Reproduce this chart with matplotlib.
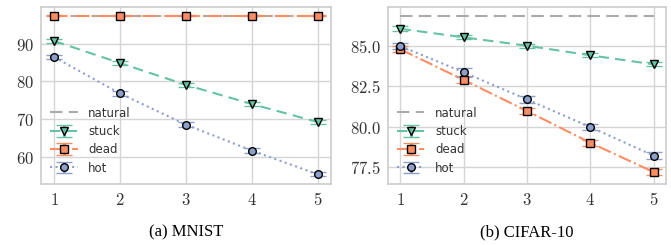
import numpy as np
import matplotlib
matplotlib.use('Agg')
import matplotlib.pyplot as plt
from matplotlib.ticker import FuncFormatter

plt.rcParams['mathtext.fontset'] = 'cm'

# data
steps = [1, 2, 3, 4, 5]

mnist_natural = [97.5, 97.5, 97.5, 97.5, 97.5]
mnist_stuck = [90.8, 84.9, 79.1, 74.0, 69.2]
mnist_dead = [97.5, 97.5, 97.5, 97.5, 97.5]
mnist_hot = [86.5, 76.8, 68.5, 61.6, 55.3]
mnist_stuck_err = [0.6, 0.6, 0.6, 0.6, 0.6]
mnist_dead_err = [0.1, 0.1, 0.1, 0.1, 0.1]
mnist_hot_err = [0.6, 0.6, 0.6, 0.6, 0.6]

cifar_natural = [86.87, 86.87, 86.87, 86.87, 86.87]
cifar_stuck = [86.07, 85.54, 85.02, 84.43, 83.87]
cifar_dead = [84.80, 82.90, 80.98, 79.02, 77.21]
cifar_hot = [85.00, 83.37, 81.70, 79.99, 78.22]
cifar_stuck_err = [0.15, 0.12, 0.12, 0.12, 0.12]
cifar_dead_err = [0.18, 0.18, 0.18, 0.18, 0.18]
cifar_hot_err = [0.2, 0.25, 0.2, 0.2, 0.22]

green = '#66c2a5'
orange = '#fc8d62'
blue = '#8da0cb'
grey = '#aaaaaa'

fig = plt.figure(figsize=(6.71, 2.45), dpi=100)
ax1 = fig.add_axes([0.061, 0.249, 0.432, 0.722])
ax2 = fig.add_axes([0.578, 0.249, 0.415, 0.722])


def draw(ax, natural, stuck, dead, hot, stuck_err, dead_err, hot_err, fmt):
    ax.plot(steps, natural, linestyle=(0, (6, 3)), color=grey, lw=1.5, label='natural')
    common = dict(capsize=6, capthick=2, elinewidth=2, markersize=5.5,
                  markeredgecolor='black', markeredgewidth=1.0, lw=1.5)
    ax.errorbar(steps, stuck, yerr=stuck_err, fmt='v', linestyle=(0, (5, 3)),
                color=green, ecolor=green, label='stuck', **common)
    ax.errorbar(steps, dead, yerr=dead_err, fmt='s', linestyle='-.',
                color=orange, ecolor=orange, label='dead', **common)
    ax.errorbar(steps, hot, yerr=hot_err, fmt='o', linestyle=':',
                color=blue, ecolor=blue, label='hot', **common)

    ax.set_xticks(steps)
    ax.xaxis.set_major_formatter(FuncFormatter(lambda v, p: r'$%d$' % v))
    ax.yaxis.set_major_formatter(FuncFormatter(lambda v, p: fmt % v))
    ax.grid(True, color='#d5d5d5', lw=1.0)
    ax.set_axisbelow(True)
    for s in ax.spines.values():
        s.set_color('#cccccc')
        s.set_linewidth(1.2)
    ax.tick_params(length=0, labelsize=12, pad=5, colors='#333333')
    ax.legend(loc='lower left', frameon=False, fontsize=8.5,
              handlelength=2.3, handletextpad=0.9, labelspacing=0.45,
              borderaxespad=0.4, labelcolor='#333333')


draw(ax1, mnist_natural, mnist_stuck, mnist_dead, mnist_hot,
     mnist_stuck_err, mnist_dead_err, mnist_hot_err, r'$%d$')
ax1.set_ylim(52.7, 99.8)
ax1.set_yticks([60, 70, 80, 90])
ax1.set_xlim(0.8, 5.2)

draw(ax2, cifar_natural, cifar_stuck, cifar_dead, cifar_hot,
     cifar_stuck_err, cifar_dead_err, cifar_hot_err, r'$%.1f$')
ax2.set_ylim(76.47, 87.41)
ax2.set_yticks([77.5, 80.0, 82.5, 85.0])
ax2.set_xlim(0.8, 5.2)

fig.text(0.277, 0.053, '(a) MNIST', ha='center', va='center',
         family='Liberation Serif', fontsize=12)
fig.text(0.785, 0.053, '(b) CIFAR-10', ha='center', va='center',
         family='Liberation Serif', fontsize=12)

fig.savefig('out.png', dpi=100)
